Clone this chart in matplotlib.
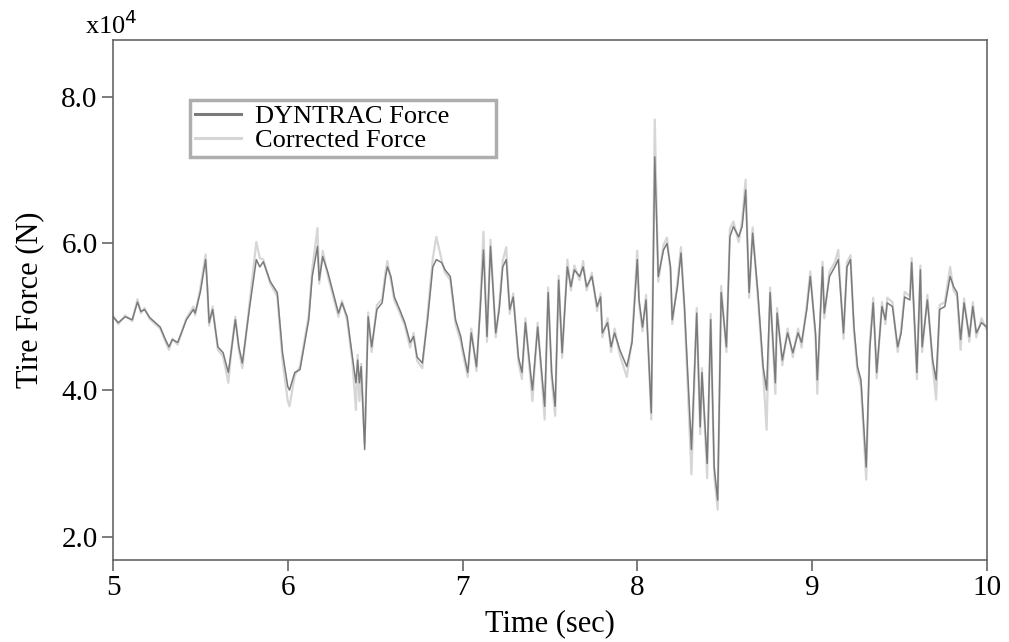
import matplotlib
matplotlib.use("Agg")
import matplotlib.pyplot as plt

# time (sec) and tire force (x10^4 N)
time = [5.00, 5.03, 5.07, 5.11, 5.14, 5.16, 5.18, 5.21, 5.27, 5.30,
        5.32, 5.34, 5.37, 5.42, 5.46, 5.47, 5.50, 5.53, 5.54, 5.55,
        5.57, 5.60, 5.63, 5.66, 5.68, 5.70, 5.72, 5.74, 5.78, 5.82,
        5.84, 5.86, 5.90, 5.94, 5.97, 6.00, 6.01, 6.04, 6.07, 6.12,
        6.14, 6.17, 6.18, 6.20, 6.23, 6.27, 6.29, 6.31, 6.34, 6.37,
        6.39, 6.40, 6.41, 6.42, 6.44, 6.46, 6.48, 6.51, 6.54, 6.56,
        6.57, 6.59, 6.61, 6.64, 6.67, 6.70, 6.72, 6.74, 6.77, 6.80,
        6.83, 6.85, 6.88, 6.90, 6.93, 6.96, 6.99, 7.00, 7.03, 7.05,
        7.08, 7.10, 7.12, 7.14, 7.16, 7.19, 7.21, 7.23, 7.25, 7.27,
        7.29, 7.32, 7.34, 7.36, 7.38, 7.40, 7.43, 7.45, 7.47, 7.49,
        7.51, 7.53, 7.55, 7.57, 7.60, 7.62, 7.64, 7.67, 7.69, 7.71,
        7.74, 7.77, 7.79, 7.80, 7.83, 7.85, 7.87, 7.90, 7.94, 7.97,
        8.00, 8.01, 8.03, 8.05, 8.08, 8.10, 8.12, 8.15, 8.17, 8.19,
        8.20, 8.23, 8.25, 8.27, 8.31, 8.34, 8.36, 8.37, 8.40, 8.42,
        8.44, 8.46, 8.48, 8.51, 8.53, 8.55, 8.58, 8.60, 8.62, 8.64,
        8.66, 8.69, 8.72, 8.74, 8.76, 8.79, 8.80, 8.83, 8.86, 8.89,
        8.92, 8.94, 8.97, 8.99, 9.02, 9.03, 9.06, 9.07, 9.10, 9.13,
        9.15, 9.18, 9.20, 9.22, 9.24, 9.26, 9.28, 9.31, 9.33, 9.35,
        9.37, 9.40, 9.42, 9.43, 9.46, 9.49, 9.51, 9.53, 9.56, 9.57,
        9.60, 9.62, 9.63, 9.66, 9.69, 9.71, 9.73, 9.76, 9.79, 9.81,
        9.83, 9.85, 9.87, 9.90, 9.92, 9.94, 9.97, 10.00]

dyntrac = [5.00, 4.92, 5.00, 4.96, 5.20, 5.07, 5.10, 4.99, 4.86, 4.69,
           4.59, 4.69, 4.65, 4.96, 5.10, 5.05, 5.34, 5.78, 5.41, 4.92,
           5.10, 4.59, 4.51, 4.24, 4.59, 4.96, 4.59, 4.37, 5.10, 5.78,
           5.68, 5.75, 5.48, 5.33, 4.51, 4.05, 4.00, 4.24, 4.28, 4.96,
           5.55, 5.96, 5.50, 5.82, 5.60, 5.23, 5.05, 5.19, 5.00, 4.45,
           4.10, 4.41, 4.10, 4.32, 3.19, 5.00, 4.59, 5.10, 5.19, 5.55,
           5.68, 5.55, 5.27, 5.10, 4.92, 4.65, 4.73, 4.45, 4.37, 4.96,
           5.68, 5.78, 5.74, 5.64, 5.55, 4.96, 4.73, 4.59, 4.24, 4.78,
           4.32, 5.05, 5.91, 4.73, 5.96, 4.78, 5.10, 5.68, 5.78, 5.10,
           5.27, 4.45, 4.24, 4.92, 4.45, 4.00, 4.86, 4.32, 3.78, 5.33,
           4.24, 3.78, 5.50, 4.51, 5.68, 5.41, 5.64, 5.55, 5.68, 5.41,
           5.55, 5.14, 5.27, 4.78, 4.92, 4.59, 4.78, 4.55, 4.32, 4.65,
           5.78, 5.23, 4.86, 5.23, 3.69, 7.18, 5.55, 5.91, 6.00, 5.68,
           4.96, 5.41, 5.87, 5.14, 3.19, 5.05, 3.50, 4.24, 3.00, 4.96,
           2.95, 2.50, 5.33, 4.59, 6.09, 6.23, 6.09, 6.23, 6.73, 5.33,
           6.14, 5.33, 4.32, 4.00, 5.33, 4.10, 5.05, 4.41, 4.78, 4.51,
           4.78, 4.65, 5.10, 5.55, 4.78, 4.14, 5.68, 5.05, 5.55, 5.68,
           5.78, 4.78, 5.68, 5.78, 4.86, 4.32, 4.14, 2.95, 4.55, 5.19,
           4.24, 5.14, 4.96, 5.19, 5.14, 4.59, 4.78, 5.27, 5.23, 5.74,
           4.24, 5.64, 4.59, 5.23, 4.41, 4.14, 5.10, 5.14, 5.55, 5.41,
           5.33, 4.69, 5.19, 4.73, 5.14, 4.78, 4.92, 4.86]

corrected = [5.02, 4.90, 5.02, 4.94, 5.24, 5.05, 5.12, 4.97, 4.84, 4.66,
             4.55, 4.70, 4.62, 4.98, 5.14, 5.02, 5.40, 5.85, 5.36, 4.88,
             5.14, 4.55, 4.46, 4.10, 4.62, 5.00, 4.55, 4.30, 5.16, 6.02,
             5.80, 5.78, 5.45, 5.28, 4.40, 3.85, 3.78, 4.20, 4.32, 5.02,
             5.65, 6.21, 5.45, 5.90, 5.55, 5.18, 5.00, 5.22, 4.95, 4.38,
             3.73, 4.48, 3.85, 4.36, 3.28, 5.06, 4.52, 5.16, 5.24, 5.62,
             5.76, 5.50, 5.22, 5.06, 4.88, 4.58, 4.78, 4.40, 4.30, 5.04,
             5.80, 6.09, 5.78, 5.60, 5.50, 4.90, 4.66, 4.52, 4.18, 4.84,
             4.26, 5.12, 6.16, 4.66, 6.05, 4.72, 5.16, 5.76, 5.95, 5.04,
             5.32, 4.38, 4.15, 4.98, 4.38, 3.85, 4.92, 4.25, 3.60, 5.40,
             4.16, 3.65, 5.56, 4.44, 5.78, 5.36, 5.70, 5.50, 5.76, 5.36,
             5.60, 5.08, 5.32, 4.72, 4.98, 4.52, 4.84, 4.48, 4.18, 4.70,
             5.90, 5.18, 4.80, 5.30, 3.60, 7.69, 5.48, 5.98, 6.08, 5.62,
             4.90, 5.48, 5.95, 5.08, 2.85, 5.12, 3.40, 4.30, 2.80, 5.04,
             2.85, 2.37, 5.42, 4.52, 6.20, 6.30, 6.02, 6.32, 6.87, 5.26,
             6.22, 5.26, 4.25, 3.46, 5.40, 3.95, 5.12, 4.34, 4.84, 4.45,
             4.84, 4.58, 5.16, 5.62, 4.70, 3.95, 5.75, 4.98, 5.62, 5.74,
             5.91, 4.70, 5.74, 5.84, 4.80, 4.25, 4.05, 2.78, 4.62, 5.26,
             4.16, 5.20, 4.90, 5.26, 5.20, 4.52, 4.84, 5.34, 5.28, 5.80,
             4.15, 5.70, 4.52, 5.30, 4.34, 3.87, 5.16, 5.20, 5.68, 5.36,
             5.28, 4.55, 5.25, 4.66, 5.20, 4.72, 4.98, 4.82]

xticks = [5, 6, 7, 8, 9, 10]
yticks = [2.0, 4.0, 6.0, 8.0]

plt.rcParams["font.family"] = ["Liberation Serif", "DejaVu Serif"]

fig = plt.figure(figsize=(10.09, 6.42), dpi=100)
ax = fig.add_axes([0.112, 0.128, 0.866, 0.81])

ax.plot(time, corrected, color="#d6d6d6", lw=1.6, label="Corrected Force", zorder=1)
ax.plot(time, dyntrac, color="#7a7a7a", lw=1.1, label="DYNTRAC Force", zorder=2)

ax.set_xlim(5, 10)
ax.set_ylim(1.686, 8.777)
ax.set_xticks(xticks)
ax.set_xticklabels([str(x) for x in xticks])
ax.set_yticks(yticks)
ax.set_yticklabels(["%.1f" % y for y in yticks])
ax.tick_params(direction="out", length=8, width=1.2, color="#666666",
               labelsize=21, pad=3)

for s in ax.spines.values():
    s.set_color("#666666")
    s.set_linewidth(1.2)

ax.set_xlabel("Time (sec)", fontsize=22, labelpad=6)
ax.set_ylabel("Tire Force (N)", fontsize=22, labelpad=12)
fig.text(0.084, 0.94, "x10$^4$", fontsize=19, ha="left", va="bottom")

handles, labels = ax.get_legend_handles_labels()
leg = ax.legend(handles[::-1], labels[::-1], loc="upper left",
                bbox_to_anchor=(0.088, 0.78, 0.35, 0.105), mode="expand",
                fontsize=19, frameon=True, fancybox=False,
                handlelength=1.75, handletextpad=0.5,
                borderpad=0.2, labelspacing=0.0, borderaxespad=0)
leg.get_frame().set_edgecolor("#9a9a9a")
leg.get_frame().set_linewidth(2.5)
leg.legend_handles[0].set_linewidth(2.2)
leg.legend_handles[1].set_linewidth(2.2)

fig.savefig("out.png", dpi=100)
